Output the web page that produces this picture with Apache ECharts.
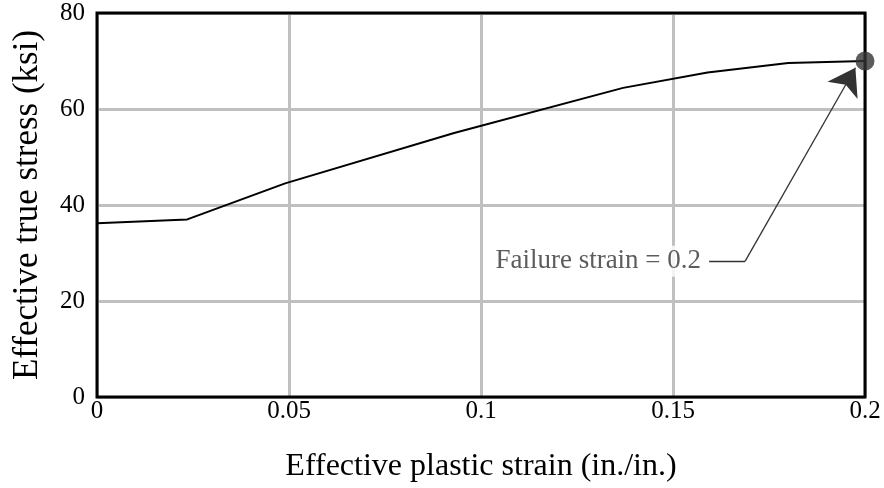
<!DOCTYPE html>
<html><head><meta charset="utf-8">
<script src="https://cdn.jsdelivr.net/npm/echarts@6/dist/echarts.min.js"></script>
<style>html,body{margin:0;padding:0;background:#fff}#c{width:884px;height:488px}</style>
</head><body><div id="c"></div>
<script>
const strain = [0, 0.0235, 0.049, 0.093, 0.137, 0.159, 0.18, 0.2];
const stress = [36.2, 37.0, 44.5, 55.0, 64.4, 67.6, 69.6, 70.0];
const failurePoint = [0.2, 70];
const annotationText = 'Failure strain = 0.2';
const leaderFlat = [[0.1594, 28.3], [0.1688, 28.3]];
const leaderArrow = [[0.1688, 28.3], [0.1975, 68.6]];
const xTicks = [0, 0.05, 0.1, 0.15, 0.2];
const yTicks = [0, 20, 40, 60, 80];

const font = 'Liberation Serif';
const chart = echarts.init(document.getElementById('c'));
chart.setOption({
  animation: false,
  backgroundColor: '#fff',
  grid: {left: 97, right: 19, top: 13, bottom: 91, containLabel: false, outerBoundsMode: 'none',
         show: true, borderColor: '#000', borderWidth: 3, backgroundColor: 'transparent', z: 3},
  xAxis: {
    type: 'value', min: 0, max: 0.2, interval: 0.05,
    name: 'Effective plastic strain (in./in.)', nameLocation: 'middle', nameGap: 54,
    nameTextStyle: {fontFamily: font, fontSize: 32, color: '#000'},
    axisLine: {show: false}, axisTick: {show: false},
    axisLabel: {fontFamily: font, fontSize: 25, color: '#000', margin: 2, formatter: v => String(+v.toFixed(2))},
    splitLine: {show: true, lineStyle: {color: '#c0c0c0', width: 3}}
  },
  yAxis: {
    type: 'value', min: 0, max: 80, interval: 20,
    name: 'Effective true stress (ksi)', nameLocation: 'middle', nameGap: 52,
    nameTextStyle: {fontFamily: font, fontSize: 35, color: '#000'},
    axisLine: {show: false}, axisTick: {show: false},
    axisLabel: {fontFamily: font, fontSize: 25, color: '#000', margin: 12},
    splitLine: {show: true, lineStyle: {color: '#c0c0c0', width: 3}}
  },
  series: [
    {type: 'line', data: strain.map((x, i) => [x, stress[i]]), symbol: 'none',
     lineStyle: {color: '#000', width: 2}, z: 4},
    {type: 'lines', coordinateSystem: 'cartesian2d', z: 5,
     symbol: ['none', 'none'],
     lineStyle: {color: '#333', width: 1.3, opacity: 1, curveness: 0},
     data: [{coords: leaderFlat}]},
    {type: 'lines', coordinateSystem: 'cartesian2d', z: 5,
     symbol: ['none', 'arrow'], symbolSize: [10, 26],
     lineStyle: {color: '#333', width: 1.3, opacity: 1, curveness: 0},
     itemStyle: {color: '#333'},
     data: [{coords: leaderArrow}]},
    {type: 'scatter', data: [failurePoint], symbol: 'circle', symbolSize: 19, clip: false,
     itemStyle: {color: '#333'}, z: 6},
    {type: 'scatter', data: [leaderFlat[0]], symbolSize: 0, z: 5,
     label: {show: true, position: 'left', distance: 4, formatter: annotationText,
       fontFamily: font, fontSize: 27, color: '#333', backgroundColor: '#fff', padding: [2, 4]}}
  ]
});
</script></body></html>
